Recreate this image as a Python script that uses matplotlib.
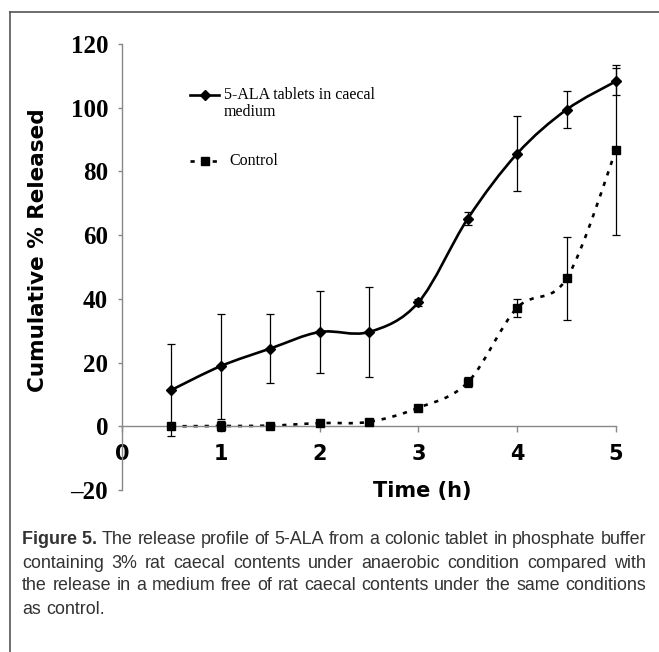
import numpy as np
import matplotlib
matplotlib.use("Agg")
import matplotlib.pyplot as plt
from matplotlib.path import Path
from matplotlib.patches import PathPatch
from matplotlib.lines import Line2D

# Data
time_h = [0.5, 1, 1.5, 2, 2.5, 3, 3.5, 4, 4.5, 5]
ala_release = [11.4, 18.9, 24.4, 29.6, 29.6, 38.9, 65.2, 85.6, 99.4, 108.3]
ala_err = [14.3, 16.5, 10.7, 12.8, 14.2, 1.0, 2.0, 11.7, 5.7, 4.2]
control_release = [0.0, 0.1, 0.2, 1.0, 1.4, 5.8, 13.8, 37.2, 46.4, 86.7]
control_err = [1.0, 1.5, 0.3, 0.5, 0.5, 0.8, 1.6, 2.9, 13.0, 26.7]

x_ticks = [0, 1, 2, 3, 4, 5]
y_ticks = [-20, 0, 20, 40, 60, 80, 100, 120]
y_tick_labels = ["\u201320", "0", "20", "40", "60", "80", "100", "120"]

legend_ala = "5-ALA tablets in caecal\nmedium"
legend_control = "Control"
caption_lines = [
    "The release profile of 5-ALA from a colonic tablet in phosphate buffer",
    "containing 3% rat caecal contents under anaerobic condition compared with",
    "the release in a medium free of rat caecal contents under the same conditions",
    "as control.",
]

W, H = 659, 652
fig = plt.figure(figsize=(W / 100, H / 100), dpi=100)
cap_font = "Liberation Sans"


def fx(px):
    return px / W


def fy(py):
    return 1 - py / H


# axes: x 0..5 -> 122..616 px, y -20..120 -> 490..44 px
ax = fig.add_axes([fx(122), fy(490), fx(616) - fx(122), fy(44) - fy(490)])
ax.set_xlim(0, 5)
ax.set_ylim(-20, 120)
ax.patch.set_visible(False)
for s in ["top", "right"]:
    ax.spines[s].set_visible(False)
ax.spines["bottom"].set_position(("data", 0))
for s in ["bottom", "left"]:
    ax.spines[s].set_color("#888888")
    ax.spines[s].set_linewidth(1.0)

ax.set_xticks(x_ticks)
ax.set_xticklabels([str(t) for t in x_ticks], fontfamily="DejaVu Sans",
                   fontweight="bold", fontsize=15)
ax.set_yticks(y_ticks)
ax.set_yticklabels(y_tick_labels, fontfamily="Liberation Serif",
                   fontweight="bold", fontsize=18)
ax.tick_params(axis="x", direction="out", length=4, width=1, color="#888888", pad=9)
ax.tick_params(axis="y", direction="out", length=3, width=1, color="#888888", pad=7)


def smooth_path(xs, ys):
    # Excel-like smoothed line, drawn as cubic Bezier segments
    pts = np.column_stack([xs, ys]).astype(float)
    n = len(pts)
    verts = [pts[0]]
    codes = [Path.MOVETO]
    for i in range(n - 1):
        p0 = pts[max(i - 1, 0)]
        p1 = pts[i]
        p2 = pts[i + 1]
        p3 = pts[min(i + 2, n - 1)]
        c1 = p1 + (p2 - p0) / 6
        c2 = p2 - (p3 - p1) / 6
        verts += [c1, c2, p2]
        codes += [Path.CURVE4] * 3
    return Path(verts, codes)


ax.add_patch(PathPatch(smooth_path(time_h, ala_release), fill=False,
                       lw=1.9, ec="black", clip_on=False, capstyle="butt"))
ax.add_patch(PathPatch(smooth_path(time_h, control_release), fill=False,
                       lw=1.9, ec="black", ls=(0, (1.6, 2.6)), clip_on=False))

ax.errorbar(time_h, ala_release, yerr=ala_err, fmt="none", ecolor="black",
            elinewidth=0.9, capsize=3.2, capthick=0.9, clip_on=False)
ax.errorbar(time_h, control_release, yerr=control_err, fmt="none", ecolor="black",
            elinewidth=0.9, capsize=3.2, capthick=0.9, clip_on=False)
ax.plot(time_h, ala_release, ls="none", marker="D", ms=5.5, color="black",
        clip_on=False, zorder=5)
ax.plot(time_h, control_release, ls="none", marker="s", ms=6, color="black",
        clip_on=False, zorder=5)

# axis titles
fig.text(fx(38), fy(250), "Cumulative % Released", rotation=90, ha="center",
         va="center", fontsize=15.5, fontweight="bold", fontfamily="DejaVu Sans")
fig.text(fx(422), fy(491), "Time (h)", ha="center", va="center",
         fontsize=15, fontweight="bold", fontfamily="DejaVu Sans")

# legend drawn by hand
fig.add_artist(Line2D([fx(190), fx(219)], [fy(95), fy(95)], color="black", lw=1.9))
fig.add_artist(Line2D([fx(205)], [fy(95)], marker="D", ms=5, color="black"))
fig.add_artist(Line2D([fx(190), fx(219)], [fy(161), fy(161)], color="black",
                      lw=1.9, ls=(0, (1.6, 2.6))))
fig.add_artist(Line2D([fx(205)], [fy(161)], marker="s", ms=6, color="black"))
fig.text(fx(224), fy(87), legend_ala, ha="left", va="top", fontsize=11.5,
         fontfamily="Liberation Serif", linespacing=1.1)
fig.text(fx(229), fy(161), legend_control, ha="left", va="center", fontsize=11.5,
         fontfamily="Liberation Serif")

# frame lines (top and left)
fig.add_artist(Line2D([fx(10), 1.0], [fy(12), fy(12)], color="#555555", lw=1.2))
fig.add_artist(Line2D([fx(10), fx(10)], [fy(12), 0.0], color="#555555", lw=1.2))

# caption, justified word by word
cap_color = "#333333"
left_px, right_px = 22, 646
line_y = [539, 563, 586, 609]
renderer = fig.canvas.get_renderer()

# pick the caption size so the longest line fits with ordinary spacing
probe = fig.text(0, 0, "Figure 5. " + caption_lines[0], fontsize=13, fontfamily=cap_font)
longest = probe.get_window_extent(renderer).width
for line in caption_lines[1:]:
    probe.set_text(line)
    longest = max(longest, probe.get_window_extent(renderer).width)
probe.remove()
cap_size = 13 * (right_px - left_px - 6) / longest

sp = fig.text(0, 0, "a a", fontsize=cap_size, fontfamily=cap_font)
aa = fig.text(0, 0, "aa", fontsize=cap_size, fontfamily=cap_font)
space_w = sp.get_window_extent(renderer).width - aa.get_window_extent(renderer).width
sp.remove()
aa.remove()

for k, line in enumerate(caption_lines):
    items = []
    if k == 0:
        items.append(("Figure 5.", "bold"))
    items += [(w, "normal") for w in line.split(" ")]
    texts = []
    for w, wt in items:
        t = fig.text(0, fy(line_y[k]), w, ha="left", va="center", fontsize=cap_size,
                     fontfamily=cap_font, fontweight=wt, color=cap_color)
        texts.append(t)
    widths = [t.get_window_extent(renderer).width for t in texts]
    if k < len(caption_lines) - 1:
        gap = (right_px - left_px - sum(widths)) / (len(texts) - 1)
    else:
        gap = space_w
    x = left_px
    for t, w in zip(texts, widths):
        t.set_x(fx(x))
        x += w + gap

fig.savefig("out.png", dpi=100)
